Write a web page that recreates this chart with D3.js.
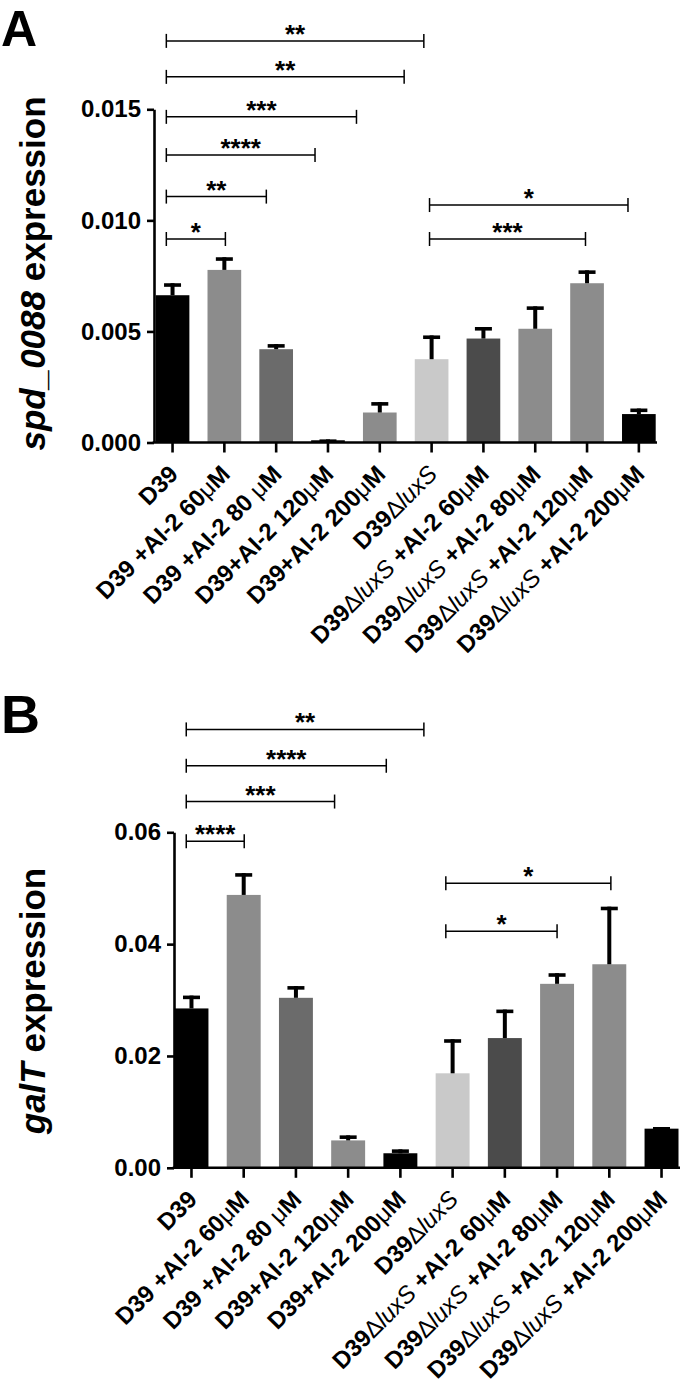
<!DOCTYPE html>
<html><head><meta charset="utf-8">
<script src="https://cdn.jsdelivr.net/npm/d3@7"></script>
<style>
body{margin:0;background:#fff}
svg text{font-family:"Liberation Sans",Arial,Helvetica,sans-serif;fill:#000}
</style>
</head><body>
<svg id="chart" width="680" height="1388"></svg>
<script>
// ---------- data ----------
const categories = [
  "D39", "D39 +AI-2 60μM", "D39 +AI-2 80 μM", "D39+AI-2 120μM", "D39+AI-2 200μM",
  "D39ΔluxS", "D39ΔluxS +AI-2 60μM", "D39ΔluxS +AI-2 80μM", "D39ΔluxS +AI-2 120μM", "D39ΔluxS +AI-2 200μM"
];
// panel A: spd_0088 expression (mean, SEM)
const spdMean = [0.00663, 0.00777, 0.00420, 0.00010, 0.00135, 0.00375, 0.00468, 0.00512, 0.00717, 0.00128];
const spdSem  = [0.00054, 0.00057, 0.00023, 0.00004, 0.00047, 0.00107, 0.00052, 0.00101, 0.00058, 0.00025];
const spdTicks = [0, 0.005, 0.010, 0.015];
// significance brackets: [from (category position), to, level, label]
const spdSig = [
  [-0.12, 4.85, 0.01808, "**"],
  [-0.12, 4.47, 0.01646, "**"],
  [-0.12, 3.55, 0.01466, "***"],
  [-0.12, 2.75, 0.01294, "****"],
  [-0.12, 1.81, 0.01107, "**"],
  [-0.12, 1.02, 0.00916, "*"],
  [4.96, 8.79, 0.01069, "*"],
  [4.96, 7.97, 0.00916, "***"]
];
// panel B: galT expression
const galMean = [0.0285, 0.0488, 0.0304, 0.0049, 0.0026, 0.0169, 0.0232, 0.0329, 0.0364, 0.0070];
const galSem  = [0.0023, 0.0039, 0.0021, 0.0009, 0.0007, 0.0061, 0.0051, 0.0019, 0.0103, 0.0003];
const galTicks = [0, 0.02, 0.04, 0.06];
const galSig = [
  [-0.10, 4.45, 0.0784, "**"],
  [-0.10, 3.73, 0.0719, "****"],
  [-0.10, 2.74, 0.0655, "***"],
  [-0.10, 1.01, 0.0584, "****"],
  [4.87, 8.03, 0.0509, "*"],
  [4.87, 7.00, 0.0423, "*"]
];
// ---------- styles ----------
const colorsA = ["#000000","#8c8c8c","#6b6b6b","#000000","#8c8c8c","#c9c9c9","#4b4b4b","#8c8c8c","#8c8c8c","#000000"];
const colorsB = ["#000000","#8c8c8c","#6b6b6b","#8c8c8c","#000000","#c9c9c9","#4b4b4b","#8c8c8c","#8c8c8c","#000000"];

const svg = d3.select("#chart");

function labelParts(s){
  const parts = [];
  const re = /(Δ)|(luxS)|(μ)/g;
  let last = 0, m;
  while ((m = re.exec(s)) !== null) {
    if (m.index > last) parts.push({t: s.slice(last, m.index), w: "bold", st: "normal"});
    if (m[1]) parts.push({t: "Δ", w: "normal", st: "normal"});
    if (m[2]) parts.push({t: "luxS", w: "normal", st: "italic"});
    if (m[3]) parts.push({t: "μ", w: "normal", st: "normal"});
    last = re.lastIndex;
  }
  if (last < s.length) parts.push({t: s.slice(last), w: "bold", st: "normal"});
  return parts;
}

function panel(cfg){
  const g = svg.append("g");
  const x = d3.scaleBand().domain(categories).range(cfg.xRange).paddingInner(0.35).paddingOuter(0);
  const y = d3.scaleLinear().domain([0, cfg.yMax]).range(cfg.yRange);
  const px = v => x(categories[0]) + x.bandwidth()/2 + v * x.step();

  // bars
  g.selectAll("rect.bar").data(cfg.mean).join("rect")
    .attr("x", (d,i) => x(categories[i]))
    .attr("y", d => y(d))
    .attr("width", x.bandwidth())
    .attr("height", d => y(0) - y(d))
    .attr("fill", (d,i) => cfg.colors[i]);

  // error bars
  const eb = g.selectAll("g.eb").data(cfg.mean).join("g");
  eb.append("line")
    .attr("x1", (d,i) => px(i)).attr("x2", (d,i) => px(i))
    .attr("y1", d => y(d)).attr("y2", (d,i) => y(d + cfg.sem[i]))
    .attr("stroke", "#000").attr("stroke-width", 4);
  eb.append("line")
    .attr("x1", (d,i) => px(i) - 8.5).attr("x2", (d,i) => px(i) + 8.5)
    .attr("y1", (d,i) => y(d + cfg.sem[i]) + 1.8).attr("y2", (d,i) => y(d + cfg.sem[i]) + 1.8)
    .attr("stroke", "#000").attr("stroke-width", 3.6);

  // y axis
  const yAxis = d3.axisLeft(y).tickValues(cfg.ticks).tickFormat(d3.format(cfg.fmt))
    .tickSize(7).tickSizeOuter(0).tickPadding(6);
  const ya = g.append("g").attr("transform", `translate(${cfg.yAxisX},0)`).call(yAxis);
  ya.select(".domain").attr("stroke-width", 2.6);
  ya.selectAll(".tick line").attr("stroke-width", 2.6);
  ya.selectAll(".tick text").attr("font-size", 24).attr("font-weight", "bold")
    .attr("font-family", "Liberation Sans, Arial, sans-serif").attr("fill", "#000");

  // x axis
  const xAxis = d3.axisBottom(x).tickSize(10).tickSizeOuter(0).tickFormat("");
  const xa = g.append("g").attr("transform", `translate(0,${y(0)})`).call(xAxis);
  xa.select(".domain").remove();
  xa.selectAll(".tick line").attr("stroke-width", 2.6);
  g.append("line").attr("x1", cfg.yAxisX - 1.3).attr("x2", cfg.xEnd)
    .attr("y1", y(0)).attr("y2", y(0)).attr("stroke", "#000").attr("stroke-width", 2.6);

  // x labels
  const lab = g.selectAll("text.xl").data(categories).join("text")
    .attr("class", "xl")
    .attr("text-anchor", "end")
    .attr("font-size", 24)
    .attr("transform", (d,i) => `translate(${px(i) + 7},${y(0) + 33}) rotate(-45)`);
  lab.each(function(d){
    const t = d3.select(this);
    labelParts(d).forEach(p => t.append("tspan").text(p.t)
      .attr("font-weight", p.w).attr("font-style", p.st));
  });

  // y title
  const yt = g.append("text").attr("text-anchor", "middle").attr("font-size", 35)
    .attr("font-weight", "bold")
    .attr("transform", `translate(${cfg.titleX},${cfg.titleY}) rotate(-90)`);
  yt.append("tspan").attr("font-style", "italic").text(cfg.gene);
  yt.append("tspan").text(" expression");

  // significance brackets
  const sg = g.selectAll("g.sig").data(cfg.sig).join("g");
  sg.append("line").attr("x1", d => px(d[0])).attr("x2", d => px(d[1]))
    .attr("y1", d => y(d[2])).attr("y2", d => y(d[2])).attr("stroke", "#000").attr("stroke-width", 1.5);
  sg.append("line").attr("x1", d => px(d[0])).attr("x2", d => px(d[0]))
    .attr("y1", d => y(d[2]) - 7).attr("y2", d => y(d[2]) + 7).attr("stroke", "#000").attr("stroke-width", 1.5);
  sg.append("line").attr("x1", d => px(d[1])).attr("x2", d => px(d[1]))
    .attr("y1", d => y(d[2]) - 7).attr("y2", d => y(d[2]) + 7).attr("stroke", "#000").attr("stroke-width", 1.5);
  sg.append("text").attr("text-anchor", "middle").attr("font-size", 26).attr("font-weight", "bold")
    .attr("x", d => (px(d[0]) + px(d[1]))/2).attr("y", d => y(d[2]) + 2)
    .text(d => d[3]);

  // panel letter
  g.append("text").attr("x", 1).attr("y", cfg.letterY).attr("font-size", cfg.letterSize)
    .attr("font-weight", "bold").text(cfg.letter);
}

panel({
  letter: "A", letterY: 46, letterSize: 50,
  mean: spdMean, sem: spdSem, ticks: spdTicks, fmt: ".3f", yMax: 0.015,
  yRange: [442.5, 109.3], xRange: [155.7, 655.7], yAxisX: 154, xEnd: 657,
  colors: colorsA, sig: spdSig, gene: "spd_0088", titleX: 45, titleY: 273.5
});
panel({
  letter: "B", letterY: 733, letterSize: 54,
  mean: galMean, sem: galSem, ticks: galTicks, fmt: ".2f", yMax: 0.06,
  yRange: [1167.8, 832.3], xRange: [174.5, 678.5], yAxisX: 174, xEnd: 680,
  colors: colorsB, sig: galSig, gene: "galT", titleX: 45, titleY: 1001
});
</script>
</body></html>
